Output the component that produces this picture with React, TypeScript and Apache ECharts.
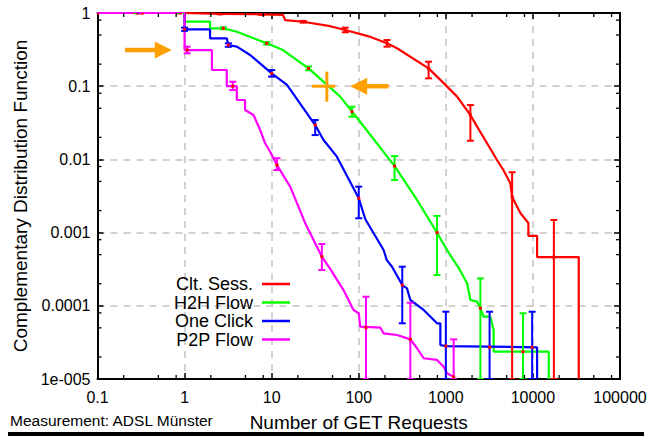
import React, { useEffect, useRef } from 'react';
import * as echarts from 'echarts';

const xTickLabels = ['0.1', '1', '10', '100', '1000', '10000', '100000'];
const yTickLabels = ['1e-005', '0.0001', '0.001', '0.01', '0.1', '1'];
const xAxisMin = 0.1;
const xAxisMax = 100000;
const yAxisMin = 0.00001;
const yAxisMax = 1;
const minorMultipliers = [2, 5, 8];

const seriesNames = ['Clt. Sess.', 'H2H Flow', 'One Click', 'P2P Flow'];
const seriesColors = ['#ff0000', '#00ff00', '#0000ff', '#ff00ff'];

// [x, ccdf]
const cltSess = [
  [0.1, 1], [1, 1], [2.56, 0.975], [7.7, 0.96], [13.5, 0.94], [14.3, 0.8], [23, 0.76], [47, 0.66],
  [70, 0.586], [130, 0.48], [211, 0.385], [275, 0.33], [634, 0.175], [865, 0.122], [1346, 0.072],
  [1914, 0.0404], [2285, 0.028], [2976, 0.0166], [3873, 0.0098], [4577, 0.00716], [5510, 0.00472],
  [5770, 0.00309], [6580, 0.00226], [7178, 0.00185], [8870, 0.00135], [8870, 0.0009], [11170, 0.0009],
  [11170, 0.000463], [33600, 0.000463], [33600, 0.00001],
];
const h2hFlow = [
  [0.1, 1], [1, 1], [1, 0.76], [1.96, 0.76], [1.96, 0.618], [2.79, 0.618], [3.98, 0.555], [8.77, 0.385],
  [13.5, 0.312], [26.5, 0.175], [61.2, 0.0719], [83.6, 0.0449], [100, 0.0345], [258, 0.0081],
  [467, 0.00279], [792, 0.000997], [1033, 0.000578], [1219, 0.000423], [1403, 0.00033], [1753, 0.000203],
  [1914, 0.00012], [2285, 0.000114], [2494, 0.0000925], [2716, 0.000071], [3243, 0.000071],
  [3540, 0.0000467], [3540, 0.0000236], [15200, 0.0000236], [15200, 0.00001],
];
const oneClick = [
  [0.1, 1], [1, 1], [1, 0.599], [1.96, 0.599], [1.96, 0.451], [3.05, 0.451], [3.18, 0.365], [3.98, 0.347],
  [5.66, 0.267], [10, 0.15], [15, 0.104], [31.6, 0.0295], [39.4, 0.0184], [47, 0.0142], [56.1, 0.0109],
  [100, 0.00294], [119, 0.00152], [193, 0.000578], [210, 0.00042], [241, 0.000342], [316, 0.000192],
  [358, 0.000173], [391, 0.00012], [556, 0.0000877], [792, 0.0000577], [865, 0.0000577],
  [865, 0.0000291], [1000, 0.0000282], [11170, 0.0000271], [11170, 0.00001],
];
const p2pFlow = [
  [0.1, 1], [1, 1], [1, 0.312], [2.06, 0.312], [2.06, 0.1665], [3.05, 0.1665], [3.05, 0.1], [3.98, 0.1],
  [3.98, 0.0648], [4.95, 0.0648], [4.95, 0.0473], [6.18, 0.0404], [7.38, 0.0252], [8.41, 0.0166],
  [9.6, 0.0127], [11.5, 0.00839], [16.3, 0.00424], [20.3, 0.00226], [24.3, 0.00134], [29, 0.000879],
  [37.7, 0.000469], [47, 0.00032], [66.8, 0.000164], [87, 0.0000877], [100, 0.000079], [104, 0.0000518],
  [177, 0.0000502], [193, 0.0000421], [275, 0.0000399], [391, 0.0000348], [467, 0.0000263],
  [556, 0.0000192], [792, 0.0000182], [945, 0.0000147], [1033, 0.000012], [1230, 0.0000107],
  [1260, 0.00001],
];

// [x, center, low, high]
const cltSessErr = [
  [0.095, 1, 1, 1], [0.28, 1, 1, 1], [0.85, 1, 1, 1], [2.56, 0.975, 0.96, 0.99], [7.7, 0.96, 0.945, 0.975],
  [23, 0.76, 0.74, 0.78], [70, 0.586, 0.545, 0.63], [211, 0.385, 0.347, 0.427], [634, 0.175, 0.128, 0.216],
  [1914, 0.0404, 0.018, 0.0553], [5770, 0.00309, 0.00001, 0.00667], [17400, 0.000463, 0.00001, 0.00149],
];
const h2hFlowErr = [
  [0.094, 1, 1, 1], [0.29, 1, 1, 1], [0.9, 1, 1, 1], [2.79, 0.618, 0.6, 0.636], [8.77, 0.385, 0.37, 0.4],
  [26.5, 0.175, 0.165, 0.186], [83.6, 0.0449, 0.0383, 0.0525], [258, 0.0081, 0.00523, 0.0111],
  [792, 0.000997, 0.000263, 0.00169], [2494, 0.0000925, 0.00001, 0.000237],
  [7700, 0.0000236, 0.00001, 0.000079],
];
const oneClickErr = [
  [0.1, 1, 1, 1], [0.316, 1, 1, 1], [1, 0.599, 0.57, 0.63], [3.18, 0.365, 0.345, 0.385],
  [10, 0.15, 0.135, 0.166], [31.6, 0.0295, 0.0215, 0.0345], [100, 0.00294, 0.00157, 0.00424],
  [316, 0.000192, 0.0000577, 0.000342], [1000, 0.0000282, 0.00001, 0.000083],
  [3180, 0.0000271, 0.00001, 0.000083], [9800, 0.0000271, 0.00001, 0.000083],
];
const p2pFlowErr = [
  [0.1, 1, 1, 1], [0.33, 1, 1, 1], [1.07, 0.312, 0.281, 0.347], [3.58, 0.1, 0.0887, 0.115],
  [11.5, 0.00839, 0.00716, 0.0104], [37.7, 0.000469, 0.000308, 0.000699],
  [121, 0.0000502, 0.00001, 0.000133], [391, 0.0000348, 0.00001, 0.00011],
  [1230, 0.0000107, 0.00001, 0.0000348],
];

// annotation arrows: [tailX, tailY, tipX, tipY]
const arrowSegments = [
  [0.207, 0.312, 0.713, 0.312],
  [220, 0.1, 79.8, 0.1],
];
// cross: [x, y, xLow, xHigh, yLow, yHigh]
const crossMarks = [[43, 0.1, 29, 53.7, 0.0614, 0.158]];

const lineData = [cltSess, h2hFlow, oneClick, p2pFlow];
const errData = [cltSessErr, h2hFlowErr, oneClickErr, p2pFlowErr];

const FONT = 'Liberation Sans, Arial, Helvetica, sans-serif';
const ORANGE = '#ffa000';

function decadeMinors(lo: number, hi: number) {
  const out: number[] = [];
  for (let d = Math.round(Math.log10(lo)); d < Math.round(Math.log10(hi)); d++) {
    for (const m of minorMultipliers) out.push(m * Math.pow(10, d));
  }
  return out;
}

export default function App() {
  const ref = useRef<HTMLDivElement>(null);
  useEffect(() => {
    if (!ref.current) return;
    const chart = echarts.init(ref.current, undefined, { renderer: 'svg' });

    const xMinors = decadeMinors(xAxisMin, xAxisMax).map((v) => [v, 1]);
    const yMinors = decadeMinors(yAxisMin, yAxisMax).map((v) => [1, v]);

    const series: any[] = [];
    lineData.forEach((d, i) => {
      series.push({
        name: seriesNames[i],
        type: 'line',
        data: d,
        symbol: 'none',
        color: seriesColors[i],
        lineStyle: { color: seriesColors[i], width: 2.2 },
        z: 2,
        clip: true,
      });
    });
    errData.forEach((d, i) => {
      series.push({
        name: seriesNames[i] + ' err',
        type: 'custom',
        data: d,
        encode: { x: 0, y: [1, 2, 3] },
        silent: true,
        z: 3,
        clip: true,
        renderItem: (params: any, api: any) => {
          const x = api.value(0);
          const pc = api.coord([x, api.value(1)]);
          const pl = api.coord([x, api.value(2)]);
          const ph = api.coord([x, api.value(3)]);
          const cap = 3.5;
          const st = { stroke: seriesColors[i], lineWidth: 2 };
          return {
            type: 'group',
            children: [
              { type: 'line', shape: { x1: pl[0], y1: pl[1], x2: ph[0], y2: ph[1] }, style: st },
              { type: 'line', shape: { x1: pl[0] - cap, y1: pl[1], x2: pl[0] + cap, y2: pl[1] }, style: st },
              { type: 'line', shape: { x1: ph[0] - cap, y1: ph[1], x2: ph[0] + cap, y2: ph[1] }, style: st },
              { type: 'rect', shape: { x: pc[0] - 1.5, y: pc[1] - 1.5, width: 3, height: 3 }, style: { fill: '#ff0000' } },
            ],
          };
        },
      });
    });
    // minor ticks
    series.push({
      name: 'xminor',
      type: 'custom',
      data: xMinors,
      encode: { x: 0, y: 1 },
      silent: true,
      z: 6,
      renderItem: (params: any, api: any) => {
        const v = api.value(0);
        const b = api.coord([v, yAxisMin]);
        const t = api.coord([v, yAxisMax]);
        const st = { stroke: '#000', lineWidth: 1.3 };
        return {
          type: 'group',
          children: [
            { type: 'line', shape: { x1: b[0], y1: b[1], x2: b[0], y2: b[1] - 4 }, style: st },
            { type: 'line', shape: { x1: t[0], y1: t[1], x2: t[0], y2: t[1] + 4 }, style: st },
          ],
        };
      },
    });
    series.push({
      name: 'yminor',
      type: 'custom',
      data: yMinors,
      encode: { x: 0, y: 1 },
      silent: true,
      z: 6,
      renderItem: (params: any, api: any) => {
        const v = api.value(1);
        const l = api.coord([xAxisMin, v]);
        const r = api.coord([xAxisMax, v]);
        const st = { stroke: '#000', lineWidth: 1.3 };
        return {
          type: 'group',
          children: [
            { type: 'line', shape: { x1: l[0], y1: l[1], x2: l[0] + 4, y2: l[1] }, style: st },
            { type: 'line', shape: { x1: r[0], y1: r[1], x2: r[0] - 4, y2: r[1] }, style: st },
          ],
        };
      },
    });
    // arrows
    series.push({
      name: 'arrows',
      type: 'custom',
      data: arrowSegments,
      encode: { x: [0, 2], y: [1, 3] },
      silent: true,
      z: 7,
      renderItem: (params: any, api: any) => {
        const p0 = api.coord([api.value(0), api.value(1)]);
        const p1 = api.coord([api.value(2), api.value(3)]);
        const dx = p1[0] - p0[0];
        const dy = p1[1] - p0[1];
        const len = Math.sqrt(dx * dx + dy * dy);
        const ux = dx / len;
        const uy = dy / len;
        const head = 17;
        const hw = 8.5;
        const bx = p1[0] - ux * head;
        const by = p1[1] - uy * head;
        return {
          type: 'group',
          children: [
            { type: 'line', shape: { x1: p0[0], y1: p0[1], x2: bx + ux, y2: by + uy }, style: { stroke: ORANGE, lineWidth: 4.5 } },
            {
              type: 'polygon',
              shape: { points: [[p1[0], p1[1]], [bx - uy * hw, by + ux * hw], [bx + uy * hw, by - ux * hw]] },
              style: { fill: ORANGE },
            },
          ],
        };
      },
    });
    series.push({
      name: 'cross',
      type: 'custom',
      data: crossMarks,
      encode: { x: [0, 2, 3], y: [1, 4, 5] },
      silent: true,
      z: 7,
      renderItem: (params: any, api: any) => {
        const x = api.value(0);
        const y = api.value(1);
        const a = api.coord([api.value(2), y]);
        const b = api.coord([api.value(3), y]);
        const c = api.coord([x, api.value(4)]);
        const d = api.coord([x, api.value(5)]);
        const st = { stroke: ORANGE, lineWidth: 3 };
        return {
          type: 'group',
          children: [
            { type: 'line', shape: { x1: a[0], y1: a[1], x2: b[0], y2: b[1] }, style: st },
            { type: 'line', shape: { x1: c[0], y1: c[1], x2: d[0], y2: d[1] }, style: st },
          ],
        };
      },
    });

    const xLabel = (v: number) => xTickLabels[Math.round(Math.log10(v)) - Math.round(Math.log10(xAxisMin))] ?? '';
    const yLabel = (v: number) => yTickLabels[Math.round(Math.log10(v)) - Math.round(Math.log10(yAxisMin))] ?? '';

    const axisLine = { show: true, onZero: false, lineStyle: { color: '#000', width: 2 } };
    const axisTick = { show: true, inside: true, length: 6, lineStyle: { color: '#000', width: 1.5 } };
    const splitLine = { show: true, lineStyle: { color: '#c4c4c4', width: 1.5, type: [7, 6] } };

    chart.setOption({
      animation: false,
      backgroundColor: '#ffffff',
      grid: { left: 97.5, top: 13, width: 522.5, height: 366, containLabel: false },
      xAxis: [
        {
          type: 'log', logBase: 10, min: xAxisMin, max: xAxisMax, position: 'bottom',
          axisLine, axisTick, splitLine,
          axisLabel: { formatter: xLabel, fontFamily: FONT, fontSize: 16, color: '#000', margin: 10 },
          name: 'Number of GET Requests', nameLocation: 'middle', nameGap: 34,
          nameTextStyle: { fontFamily: FONT, fontSize: 19, color: '#000' },
        },
        {
          type: 'log', logBase: 10, min: xAxisMin, max: xAxisMax, position: 'top',
          axisLine, axisTick, splitLine: { show: false }, axisLabel: { show: false },
        },
      ],
      yAxis: [
        {
          type: 'log', logBase: 10, min: yAxisMin, max: yAxisMax, position: 'left',
          axisLine, axisTick, splitLine,
          axisLabel: { formatter: yLabel, fontFamily: FONT, fontSize: 16, color: '#000', margin: 7 },
          name: 'Complementary Distribution Function', nameLocation: 'middle', nameGap: 67,
          nameTextStyle: { fontFamily: FONT, fontSize: 19, color: '#000' },
        },
        {
          type: 'log', logBase: 10, min: yAxisMin, max: yAxisMax, position: 'right',
          axisLine, axisTick, splitLine: { show: false }, axisLabel: { show: false },
        },
      ],
      legend: {
        data: seriesNames,
        orient: 'vertical',
        align: 'right',
        right: 361,
        top: 275,
        padding: 0,
        itemGap: 0.5,
        itemWidth: 28,
        itemHeight: 2.5,
        icon: 'rect',
        selectedMode: false,
        textStyle: { fontFamily: FONT, fontSize: 18, color: '#000', lineHeight: 17, padding: [0, 4, 0, 0] },
      },
      graphic: [
        {
          type: 'text', left: 10, top: 412,
          style: { text: 'Measurement: ADSL Münster', font: `15.5px ${FONT}`, fill: '#000' },
        },
        { type: 'rect', left: 8, top: 432, shape: { width: 636, height: 4 }, style: { fill: '#000' } },
      ],
      series,
    });
    return () => chart.dispose();
  }, []);
  return <div ref={ref} style={{ position: 'absolute', left: 0, top: 0, width: 651, height: 437 }} />;
}
